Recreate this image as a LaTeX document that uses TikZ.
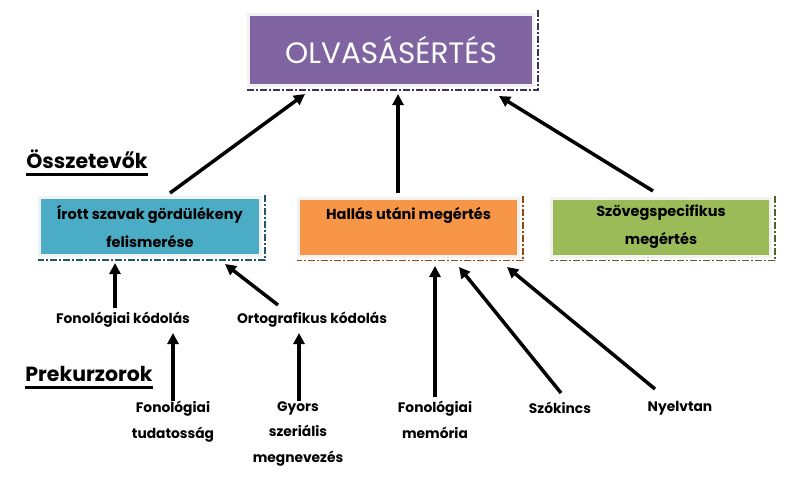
\documentclass[tikz,border=0pt]{standalone}
\usepackage{fontspec}
\setmainfont{Poppins}
\usetikzlibrary{arrows.meta}
\definecolor{cpurple}{HTML}{8064A2}
\definecolor{cpurpled}{HTML}{3F3151}
\definecolor{cblue}{HTML}{4BACC6}
\definecolor{cblued}{HTML}{205867}
\definecolor{corange}{HTML}{F79646}
\definecolor{corange d}{HTML}{974706}
\definecolor{cgreen}{HTML}{9BBB59}
\definecolor{cgreend}{HTML}{4F6228}
\definecolor{cborder}{HTML}{F2F2F2}
\tikzset{
  x=1pt,y=-1pt,
  box/.style={draw=cborder, line width=3pt, inner sep=0pt, align=center, font=\bfseries\fontsize{14.5}{28}\selectfont},
  shadowline/.style={line width=1.6pt, dash pattern=on 7pt off 2pt on 2pt off 2pt},
  arr/.style={line width=3.5pt, -{Triangle[length=11pt,width=11pt]}},
  lbl/.style={align=center, inner sep=1pt, font=\bfseries\fontsize{13.8}{25.5}\selectfont},
  hdr/.style={inner sep=0pt, font=\bfseries\fontsize{20.5}{22}\selectfont},
  ul/.style={line width=2.6pt},
}
\begin{document}
\begin{tikzpicture}
\useasboundingbox (0,0) rectangle (792,490);
% top box
\node[box, fill=cpurple, minimum width=285pt, minimum height=71pt, text=white, font=\fontsize{29.5}{30}\selectfont] (top) at (391,50) {OLVASÁSÉRTÉS};
\draw[shadowline, cpurpled] ([xshift=3pt,yshift=3pt]top.north east) -- ([xshift=3pt,yshift=-3pt]top.south east) -- ([yshift=-3pt]top.south west);
% component boxes
\node[box, fill=cblue, minimum width=221pt, minimum height=58pt] (b1) at (150,226.5) {Írott szavak gördülékeny\\felismerése};
\draw[shadowline, cblued] ([xshift=3pt,yshift=1pt]b1.north east) -- ([xshift=3pt,yshift=-3pt]b1.south east) -- ([yshift=-3pt]b1.south west);
\node[box, fill=corange, minimum width=220pt, minimum height=58pt] (b2) at (408.5,227) {Hallás utáni megértés\\\mbox{}};
\draw[shadowline, corange d] ([xshift=3pt,yshift=1pt]b2.north east) -- ([xshift=3pt,yshift=-3pt]b2.south east) -- ([yshift=-3pt]b2.south west);
\node[box, fill=cgreen, minimum width=219pt, minimum height=58pt] (b3) at (661,227) {Szövegspecifikus\\megértés};
\draw[shadowline, cgreend] ([xshift=3pt,yshift=1pt]b3.north east) -- ([xshift=3pt,yshift=-3pt]b3.south east) -- ([yshift=-3pt]b3.south west);
% headers
\node[hdr] (h1) at (87,159) {Összetevők};
\draw[ul] ([yshift=-6pt]h1.base west) -- ([yshift=-6pt]h1.base east);
\node[hdr] (h2) at (89,374) {Prekurzorok};
\draw[ul] ([yshift=-6pt]h2.base west) -- ([yshift=-6pt]h2.base east);
% labels
\node[lbl] (fk) at (123,320) {Fonológiai kódolás};
\node[lbl] (ok) at (312,320) {Ortografikus kódolás};
\node[lbl, anchor=north] (ft) at (173,400) {Fonológiai\\tudatosság};
\node[lbl, anchor=north] (gy) at (298,400) {Gyors\\szeriális\\megnevezés};
\node[lbl, anchor=north] (fm) at (435,400) {Fonológiai\\memória};
\node[lbl] (sz) at (560,408) {Szókincs};
\node[lbl] (ny) at (680,408) {Nyelvtan};
% coordinates for arrow ends
\coordinate (a1s) at (170,193); \coordinate (a1e) at (305,94);
\coordinate (a2s) at (398,193); \coordinate (a2e) at (398,94);
\coordinate (a3s) at (653,191); \coordinate (a3e) at (499,96);
\draw[arr] (a1s) -- (a1e);
\draw[arr] (a2s) -- (a2e);
\draw[arr] (a3s) -- (a3e);
\coordinate (c1s) at (115,308); \coordinate (c1e) at (115,263);
\coordinate (c2s) at (278,305); \coordinate (c2e) at (225,264);
\draw[arr] (c1s) -- (c1e);
\draw[arr] (c2s) -- (c2e);
\coordinate (d1s) at (173,401); \coordinate (d1e) at (173,333);
\coordinate (d2s) at (299,401); \coordinate (d2e) at (299,333);
\draw[arr] (d1s) -- (d1e);
\draw[arr] (d2s) -- (d2e);
\coordinate (e1s) at (435,397); \coordinate (e1e) at (435,266);
\coordinate (e2s) at (561,393); \coordinate (e2e) at (459,267);
\coordinate (e3s) at (655,389); \coordinate (e3e) at (507,267);
\draw[arr] (e1s) -- (e1e);
\draw[arr] (e2s) -- (e2e);
\draw[arr] (e3s) -- (e3e);
\end{tikzpicture}
\end{document}
